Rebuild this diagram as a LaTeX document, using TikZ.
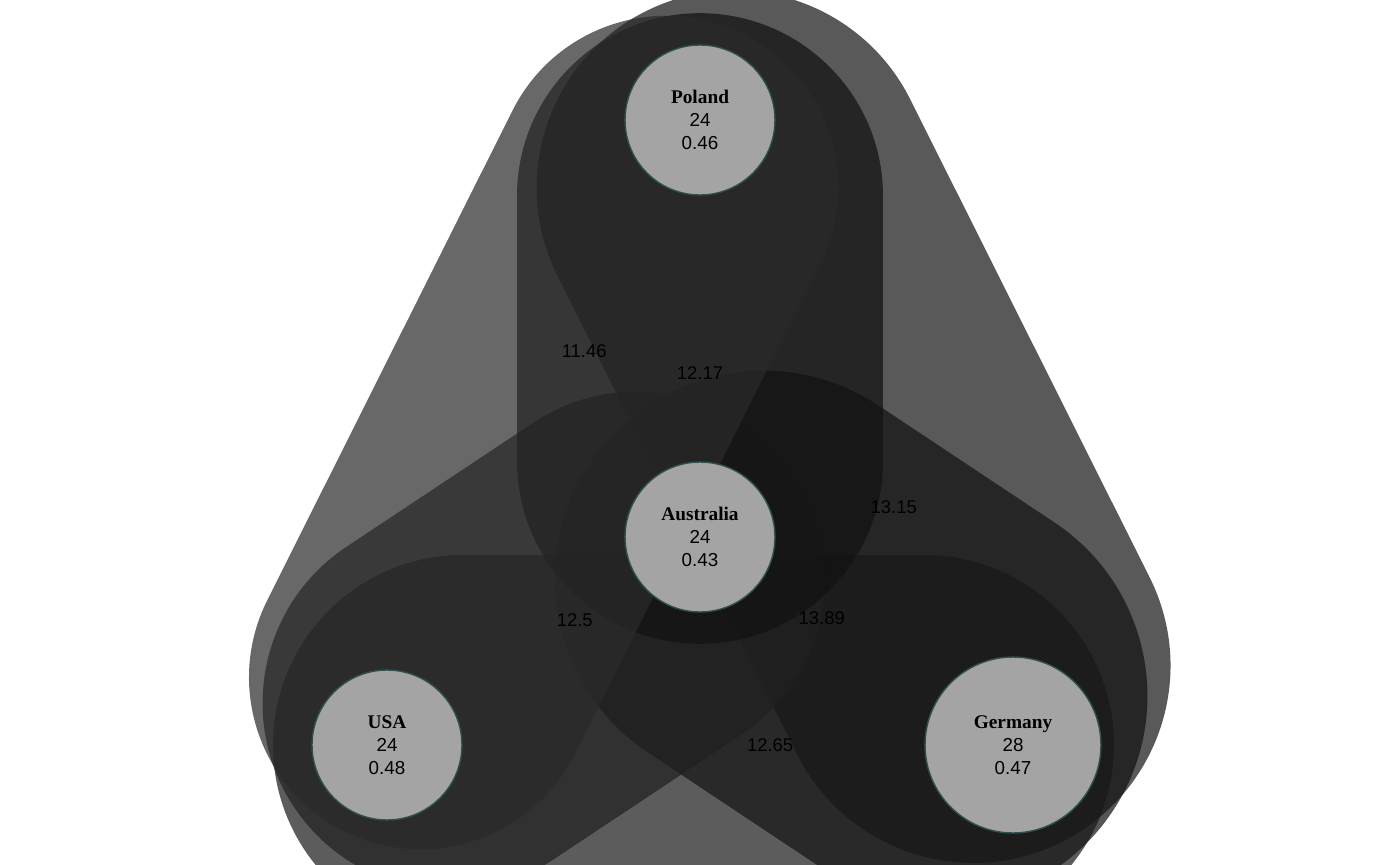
\documentclass[tikz,border=0pt]{standalone}
\usepackage{fontspec}
\setmainfont{Liberation Sans}
\newfontfamily\namefont{Liberation Serif}
\pgfdeclarelayer{edges}
\pgfsetlayers{edges,main}
\definecolor{ringcol}{RGB}{47,79,79}
\definecolor{nodefill}{RGB}{164,164,164}
\newcommand{\cname}[1]{{\namefont\bfseries\fontsize{11}{13}\selectfont #1}}

\begin{document}
\begin{tikzpicture}[x=0.02cm, y=-0.02cm,
        country/.style={circle, draw=ringcol, line width=0.8pt, fill=nodefill,
            inner sep=0pt, minimum size=3cm, align=center,
            font=\fontsize{10.7}{13}\selectfont},
        band/.style={line cap=round, draw opacity=0.71},
        elabel/.style={font=\fontsize{10.5}{13}\selectfont}]
    \useasboundingbox (0,0) rectangle (1400,865);
    % countries
    \node [country] (pl) at (700,120) {\cname{Poland}\\24\\0.46};
    \node [country] (au) at (700,537) {\cname{Australia}\\24\\0.43};
    \node [country] (us) at (387,745) {\cname{USA}\\24\\0.48};
    \node [country, minimum size=3.52cm] (de) at (1013,745) {\cname{Germany}\\28\\0.47};
    % links, strongest first
    \begin{pgfonlayer}{edges}
        \draw [band, line width=8.334cm, draw=black!94] (au) -- (de);
        \draw [band, line width=7.89cm, draw=black!91.8] (pl) -- (de);
        \draw [band, line width=7.59cm, draw=black!90.2] (us) -- (de);
        \draw [band, line width=7.5cm, draw=black!87.5] (au) -- (us);
        \draw [band, line width=7.302cm, draw=black!93.3] (pl) -- (au);
        \draw [band, line width=6.876cm, draw=black!83.5] (pl) -- (us);
    \end{pgfonlayer}
    % weights
    \path (pl.center) -- (us.center) node [elabel, pos=0.37] {11.46};
    \path (pl.center) -- (au.center) node [elabel, pos=0.607] {12.17};
    \path (pl.center) -- (de.center) node [elabel, pos=0.619] {13.15};
    \path (au.center) -- (us.center) node [elabel, pos=0.4] {12.5};
    \path (au.center) -- (de.center) node [elabel, pos=0.389] {13.89};
    \path (us.center) -- (de.center) node [elabel, pos=0.612] {12.65};
\end{tikzpicture}
\end{document}
